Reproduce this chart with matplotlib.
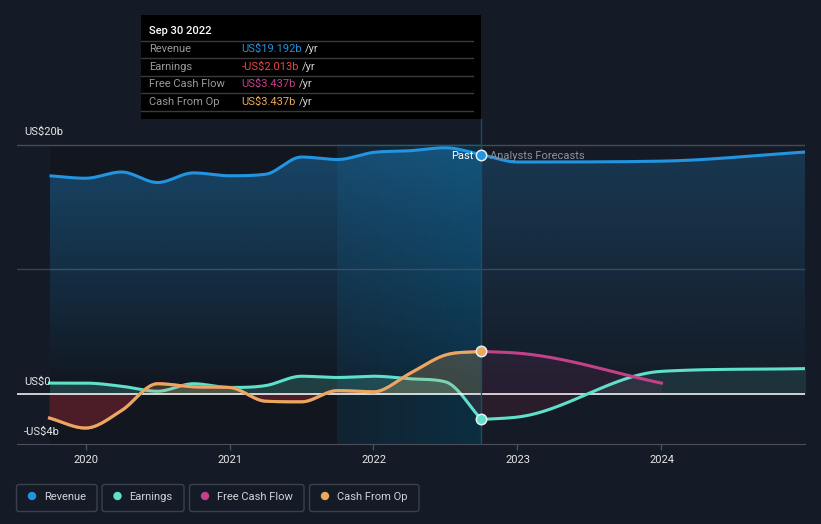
import numpy as np
import matplotlib
matplotlib.use("Agg")
import matplotlib.pyplot as plt
from matplotlib.patches import Rectangle, FancyBboxPatch, Circle
from matplotlib.transforms import IdentityTransform
from matplotlib.colors import to_rgb

plt.rcParams['font.family'] = ['Roboto', 'DejaVu Sans']

# == Data: US$ billions, trailing twelve months, quarter ends as decimal years == #
past_dates = [2019.75, 2020.0, 2020.25, 2020.5, 2020.75, 2021.0, 2021.25,
              2021.5, 2021.75, 2022.0, 2022.25, 2022.5, 2022.75]
revenue_past = [17.5, 17.3, 17.8, 16.96, 17.73, 17.5, 17.62, 19.0, 18.8,
                19.37, 19.5, 19.74, 19.192]
earnings_past = [0.9, 0.9, 0.65, 0.25, 0.85, 0.55, 0.7, 1.45, 1.35, 1.45,
                 1.25, 1.0, -2.013]
cfo_past = [-1.9, -2.7, -1.3, 0.85, 0.6, 0.55, -0.55, -0.6, 0.3, 0.2,
            1.65, 3.15, 3.437]
fcf_past = [-1.9, -2.7, -1.3, 0.85, 0.6, 0.55, -0.55, -0.6, 0.3, 0.2,
            1.65, 3.15, 3.437]

fc_dates = [2022.75, 2023.0, 2024.0, 2025.0]
revenue_fc = [19.192, 18.6, 18.67, 19.4]
earnings_fc = [-2.013, -1.82, 1.84, 2.06]
fcf_fc_dates = [2022.75, 2023.0, 2024.0]
fcf_fc = [3.437, 3.3, 0.9]

years = [2020, 2021, 2022, 2023, 2024]
ytick_vals = [20, 0, -4]
ytick_labels = ['US$20b', 'US$0', '-US$4b']

series_names = ['Revenue', 'Earnings', 'Free Cash Flow', 'Cash From Op']
tip_values = ['US$19.192b', '-US$2.013b', 'US$3.437b', 'US$3.437b']
tip_date = 'Sep 30 2022'

# == Colours == #
BG = '#151b26'
C_REV = '#2394df'
C_EARN = '#5fe0ca'
C_FCF = '#c4418a'
C_CFO = '#e9a95c'
C_NEG = '#d8303c'
TIP_COLORS = [C_REV, '#e84545', C_FCF, C_CFO]

W, H = 821, 524
now = 2022.75


def smooth(xs, ys, n=30):
    " monotone cubic (Fritsch-Carlson style) for drawing smooth curves "
    xs = np.asarray(xs, float)
    ys = np.asarray(ys, float)
    h = np.diff(xs)
    d = np.diff(ys) / h
    m = np.zeros_like(ys)
    m[0], m[-1] = d[0], d[-1]
    for i in range(1, len(xs) - 1):
        if d[i - 1] * d[i] <= 0:
            m[i] = 0.0
        else:
            p = (d[i - 1] * h[i] + d[i] * h[i - 1]) / (h[i - 1] + h[i])
            m[i] = np.sign(d[i]) * min(abs(d[i - 1]) * 3, abs(d[i]) * 3, abs(p))
    out_x, out_y = [], []
    for i in range(len(xs) - 1):
        t = np.linspace(0, 1, n, endpoint=(i == len(xs) - 2))
        h00 = 2 * t**3 - 3 * t**2 + 1
        h10 = t**3 - 2 * t**2 + t
        h01 = -2 * t**3 + 3 * t**2
        h11 = t**3 - t**2
        out_x.append(xs[i] + t * h[i])
        out_y.append(h00 * ys[i] + h10 * h[i] * m[i] + h01 * ys[i + 1] + h11 * h[i] * m[i + 1])
    return np.concatenate(out_x), np.concatenate(out_y)


def vgrad(color, a0, a1):
    g = np.zeros((256, 1, 4))
    g[..., :3] = to_rgb(color)
    g[:, 0, 3] = np.linspace(a0, a1, 256)
    return g


fig = plt.figure(figsize=(W / 100, H / 100), dpi=100, facecolor=BG)
ax = fig.add_axes([17 / W, (H - 444.3) / H, (805 - 17) / W, (444.3 - 15) / H])
ax.set_facecolor(BG)
x0, x1 = 2019.524, 2024.997
y0, y1 = -4, 30.37
ax.set_xlim(x0, x1)
ax.set_ylim(y0, y1)

# == Background regions == #
ax.add_patch(Rectangle((past_dates[0], -4), 2021.75 - past_dates[0], 24,
                       facecolor='black', alpha=0.17, lw=0, zorder=0.5))
band = np.zeros((1, 256, 4))
band[..., :3] = to_rgb('#004664')
band[0, :, 3] = np.linspace(0.18, 0.45, 256)
ax.imshow(band, extent=[2021.75, now, -4, 20], origin='lower', aspect='auto',
          interpolation='bilinear', zorder=0.6)

# gridlines
ax.axhline(20, color='#474b55', lw=1, zorder=0.7)
ax.axhline(10, color='#3a404c', lw=1, zorder=0.7)

# == Revenue == #
rx_p, ry_p = smooth(past_dates, revenue_past)
rx_f, ry_f = smooth(fc_dates, revenue_fc)
rx = np.concatenate([rx_p, rx_f])
ry = np.concatenate([ry_p, ry_f])
poly = ax.fill_between(rx, ry, 0, color='none', lw=0)
clip = poly.get_paths()[0]
im = ax.imshow(vgrad(C_REV, 0.0, 0.39), extent=[rx_p[0], now, 0, 20], origin='lower',
               aspect='auto', interpolation='bilinear', zorder=1)
im.set_clip_path(clip, ax.transData)
im = ax.imshow(vgrad(C_REV, 0.0, 0.24), extent=[now, rx_f[-1], 0, 20], origin='lower',
               aspect='auto', interpolation='bilinear', zorder=1)
im.set_clip_path(clip, ax.transData)
ax.plot(rx, ry, color=C_REV, lw=2.2, zorder=4, solid_capstyle='butt')

# == Earnings == #
ex_p, ey_p = smooth(past_dates, earnings_past)
ex_f, ey_f = smooth(fc_dates, earnings_fc)
ax.fill_between(ex_p, ey_p, 0, where=ey_p >= 0, interpolate=True,
                color=C_EARN, alpha=0.2, lw=0, zorder=2)
ax.fill_between(ex_p, ey_p, 0, where=ey_p < 0, interpolate=True,
                color=C_NEG, alpha=0.12, lw=0, zorder=2)
ax.fill_between(ex_f, ey_f, 0, where=ey_f >= 0, interpolate=True,
                color=C_EARN, alpha=0.12, lw=0, zorder=2)
ax.fill_between(ex_f, ey_f, 0, where=ey_f < 0, interpolate=True,
                color=C_NEG, alpha=0.1, lw=0, zorder=2)
ax.plot(ex_p, ey_p, color=C_EARN, lw=2.2, zorder=2.5)
ax.plot(ex_f, ey_f, color=C_EARN, lw=2.2, zorder=4)

# == Cash flows == #
cx_p, cy_p = smooth(past_dates, cfo_past)
fx_p, fy_p = smooth(past_dates, fcf_past)
ax.fill_between(cx_p, cy_p, 0, where=cy_p >= 0, interpolate=True,
                color=C_CFO, alpha=0.22, lw=0, zorder=3)
ax.fill_between(fx_p, fy_p, 0, where=fy_p < 0, interpolate=True,
                color=C_NEG, alpha=0.3, lw=0, zorder=3)
ax.plot(fx_p, fy_p, color=C_FCF, lw=2.2, zorder=3.9)
ax.plot(cx_p, cy_p, color=C_CFO, lw=2.2, zorder=4)

fx_f, fy_f = smooth(fcf_fc_dates, fcf_fc)
ax.fill_between(fx_f, fy_f, 0, color=C_FCF, alpha=0.1, lw=0, zorder=2)
ax.plot(fx_f, fy_f, color=C_FCF, lw=2.2, zorder=4)

# zero line
ax.axhline(0, color='white', lw=1.1, zorder=3.5)

# "now" line and markers
ax.plot([now, now], [-4, 22.04], color='#1d4d66', lw=1, zorder=3.6, clip_on=False)
for val, col in [(revenue_past[-1], C_REV), (cfo_past[-1], C_CFO), (earnings_past[-1], C_EARN)]:
    ax.plot(now, val, 'o', ms=7.5, mfc=col, mec='#e8eef2', mew=1.1, zorder=5)

ax.annotate('Past', xy=(now, 19.07), xytext=(-6, 0), textcoords='offset points',
            ha='right', va='center', color='white', fontsize=8, zorder=6)
ax.annotate('Analysts Forecasts', xy=(now, 19.07), xytext=(6, 0), textcoords='offset points',
            ha='left', va='center', color='#8c9199', fontsize=8, zorder=6)

# == Axes styling == #
for s in ['top', 'right', 'left']:
    ax.spines[s].set_visible(False)
ax.spines['bottom'].set_color('#4a4f59')
ax.set_yticks([])
ax.set_xticks(years)
ax.set_xticklabels([str(y) for y in years])
ax.tick_params(axis='x', colors='#4a4f59', length=4, width=1, pad=3.5, labelcolor='#e6e6e6',
               labelsize=8)
for v, lbl in zip(ytick_vals, ytick_labels):
    ax.annotate(lbl, xy=(24, v), xycoords=('figure pixels', 'data'), xytext=(0, 8.8),
                textcoords='offset points', ha='left', va='center', color='#e6e6e6', fontsize=8)

# == Tooltip (pixel coordinates, measured from top) == #
px = IdentityTransform()


def fy(y):
    return H - y


fig.add_artist(Rectangle((141, fy(119)), 340, 104, facecolor='black', lw=0, transform=px, zorder=10))
fig.text(149, fy(31), tip_date, color='white', fontsize=8, fontweight='medium',
         va='center', transform=px, zorder=11)
for yl in [41, 58.3, 76, 93.3, 111]:
    fig.add_artist(plt.Line2D([141, 473], [fy(yl), fy(yl)], color='#3a3a3a', lw=1,
                              transform=px, zorder=11))
fig.canvas.draw()
renderer = fig.canvas.get_renderer()
for i, (name, val, col) in enumerate(zip(series_names, tip_values, TIP_COLORS)):
    yc = fy(49 + i * 17.6)
    fig.text(149, yc, name, color='#9a9a9a', fontsize=8, va='center', transform=px, zorder=11)
    t = fig.text(241.5, yc, val, color=col, fontsize=8, va='center', transform=px, zorder=11)
    bb = t.get_window_extent(renderer)
    fig.text(bb.x1 + 3, yc, '/yr', color='#d0d0d0', fontsize=8, va='center', transform=px, zorder=11)

# == Legend == #
legend_boxes = [(16.5, 97), (102, 184), (189.5, 304), (309.5, 419)]
legend_colors = [C_REV, C_EARN, C_FCF, C_CFO]
for (bx0, bx1), name, col in zip(legend_boxes, series_names, legend_colors):
    fig.add_artist(FancyBboxPatch((bx0, fy(511.5)), bx1 - bx0, 27,
                                  boxstyle='round,pad=0,rounding_size=2.5',
                                  facecolor='none', edgecolor='#3b414c', lw=1,
                                  transform=px, zorder=10))
    fig.add_artist(Circle((bx0 + 15.5, fy(496)), 4.2, facecolor=col, lw=0, transform=px, zorder=11))
    fig.text(bx0 + 27.5, fy(496.5), name, color='#d0d4d8', fontsize=8, va='center',
             transform=px, zorder=11)

fig.savefig('out.png', dpi=100, facecolor=BG)
